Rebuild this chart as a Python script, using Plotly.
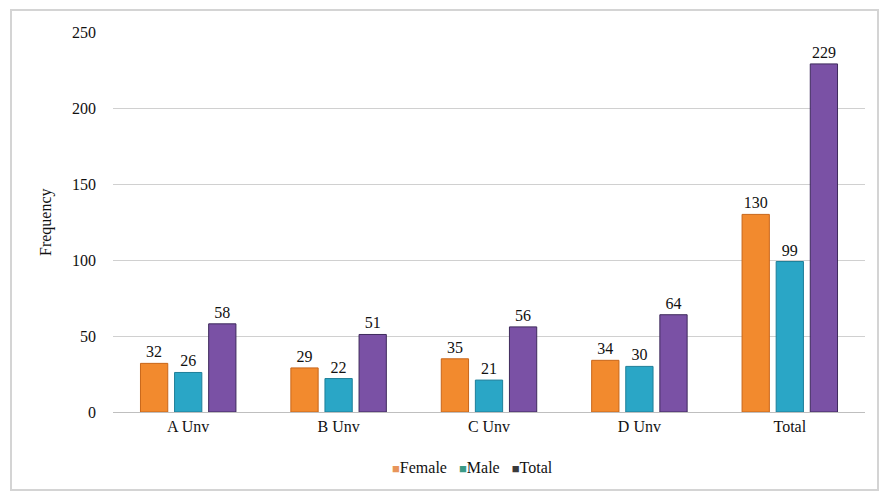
import plotly.graph_objects as go

categories = ["A Unv", "B Unv", "C Unv", "D Unv", "Total"]
female = [32, 29, 35, 34, 130]
male = [26, 22, 21, 30, 99]
total = [58, 51, 56, 64, 229]
series_names = ["Female", "Male", "Total"]
y_ticks = [0, 50, 100, 150, 200, 250]

colors = ["#F28A2E", "#2AA6C6", "#7A51A5"]
outlines = ["#C8661A", "#1E7F99", "#3E2A5C"]
legend_colors = ["#E8955A", "#3A9A86", "#3A3A3A"]
FONT = "'Liberation Serif', 'Times New Roman', serif"

fig = go.Figure()
for name, vals, c, oc in zip(series_names, [female, male, total], colors, outlines):
    fig.add_trace(go.Bar(
        x=categories, y=vals, name=name,
        marker=dict(color=c, line=dict(color=oc, width=1)),
        text=[str(v) for v in vals], textposition="outside",
        textfont=dict(family=FONT, size=16, color="#111"),
        cliponaxis=False, showlegend=False,
    ))

W, H = 880, 493
L, R, T, B = 113, 865, 32, 412
pw, ph = R - L, B - T

def px(x):
    return (x - L) / pw

def py(y):
    return (B - y) / ph

legend_text = "&nbsp;&nbsp;&nbsp;".join(
    f"<span style='color:{lc};font-size:13px'>■</span>{n}" for n, lc in zip(series_names, legend_colors)
)

fig.update_layout(
    width=W, height=H,
    margin=dict(l=L, r=W - R, t=T, b=H - B),
    paper_bgcolor="white", plot_bgcolor="white",
    barmode="group", bargap=0.32, bargroupgap=0.2,
    font=dict(family=FONT, size=15, color="#111"),
    xaxis=dict(showline=True, linecolor="#bfbfbf", linewidth=1, ticks="",
               tickfont=dict(family=FONT, size=16), showgrid=False),
    yaxis=dict(range=[0, 250], tickvals=y_ticks, showgrid=True, gridcolor="#d0d0d0",
               gridwidth=1, zeroline=False, showline=False, ticks="",
               ticklabelstandoff=16, tickfont=dict(family=FONT, size=16)),
    annotations=[
        dict(text="Frequency", x=px(35), y=py(222), xref="paper", yref="paper",
             textangle=-90, showarrow=False, font=dict(family=FONT, size=16)),
        dict(text=legend_text, x=px(472), y=py(467), xref="paper", yref="paper",
             xanchor="center", yanchor="middle", showarrow=False,
             font=dict(family=FONT, size=16)),
    ],
    shapes=[dict(type="rect", xref="paper", yref="paper",
                 x0=px(11), x1=px(878), y0=py(490), y1=py(10),
                 line=dict(color="#d4d4d4", width=2), fillcolor="rgba(0,0,0,0)", layer="below")],
)

fig.write_html("out.html")
